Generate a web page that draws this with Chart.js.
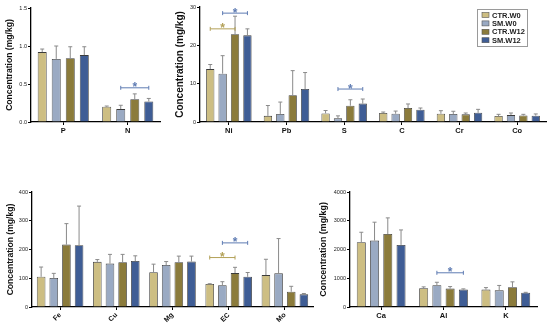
<!DOCTYPE html>
<html>
<head>
<meta charset="utf-8">
<script src="https://cdn.jsdelivr.net/npm/chart.js@4.4.0/dist/chart.umd.min.js"></script>
<style>
  html, body { margin: 0; padding: 0; background: #fff; }
  #wrap { position: relative; width: 550px; height: 325px; overflow: hidden; }
  canvas { position: absolute; }
</style>
</head>
<body>
<div id="wrap">
  <canvas id="cA" width="165" height="150" style="left:0px;top:0px"></canvas>
  <canvas id="cB" width="380" height="150" style="left:170px;top:0px"></canvas>
  <canvas id="cC" width="320" height="165" style="left:0px;top:160px"></canvas>
  <canvas id="cD" width="235" height="165" style="left:315px;top:160px"></canvas>
</div>
<script>
// ---- data ----
const seriesNames = ["CTR.W0", "SM.W0", "CTR.W12", "SM.W12"];
const seriesColors = ["#CDBE83", "#9AAAC3", "#8B7B3B", "#3F5D95"];
const GOLD = "#B3A158";
const BLUE = "#5F7CB3";

// panel A : P, N
const catsA = ["P", "N"];
const meanA = [[0.92, 0.20], [0.83, 0.17], [0.84, 0.30], [0.88, 0.27]];
const highA = [[0.96, 0.21], [1.00, 0.22], [0.99, 0.37], [0.99, 0.31]];
const ticksA = [0, 0.5, 1.0, 1.5];
const sigA = [{ cat: 1, from: 1, to: 3, y: 0.45, color: BLUE }];

// panel B : trace elements
const catsB = ["Ni", "Pb", "S", "C", "Cr", "Co"];
const meanB = [
  [13.8, 1.6, 2.25, 2.35, 2.15, 1.55],
  [12.6, 2.1, 0.95, 2.15, 2.1, 1.8],
  [22.9, 7.0, 4.25, 3.65, 2.0, 1.7],
  [22.6, 8.6, 4.8, 3.2, 2.4, 1.65]
];
const highB = [
  [15.0, 4.3, 3.0, 2.6, 2.95, 2.0],
  [17.3, 5.2, 1.6, 2.85, 2.8, 2.35],
  [27.6, 13.4, 5.8, 4.7, 2.35, 2.0],
  [24.3, 12.9, 6.0, 3.65, 3.3, 2.1]
];
const ticksB = [0, 10, 20, 30];
const sigB = [
  { cat: 0, from: 0, to: 2, y: 24.3, color: GOLD },
  { cat: 0, from: 1, to: 3, y: 28.4, color: BLUE },
  { cat: 2, from: 1, to: 3, y: 8.6, color: BLUE }
];

// panel C : Fe .. Mo
const catsC = ["Fe", "Cu", "Mg", "EC", "Mo"];
const meanC = [
  [105, 157, 121, 80, 111],
  [101, 151, 146, 76, 117],
  [217, 156, 156, 118, 53],
  [215, 160, 158, 105, 44]
];
const highC = [
  [139, 165, 149, 81, 166],
  [117, 183, 158, 88, 238],
  [290, 183, 177, 138, 72],
  [351, 178, 177, 120, 47]
];
const ticksC = [0, 100, 200, 300, 400];
const sigC = [
  { cat: 3, from: 0, to: 2, y: 172, color: GOLD },
  { cat: 3, from: 1, to: 3, y: 223, color: BLUE }
];

// panel D : Ca, Al, K
const catsD = ["Ca", "Al", "K"];
const meanD = [[2250, 650, 605], [2310, 760, 580], [2540, 640, 690], [2160, 605, 500]];
const highD = [[2600, 700, 675], [2950, 860, 750], [3100, 710, 875], [2680, 630, 510]];
const ticksD = [0, 1000, 2000, 3000, 4000];
const sigD = [{ cat: 1, from: 1, to: 3, y: 1190, color: BLUE }];

const FONT = "'Liberation Sans', Arial, sans-serif";

// error bars (upper only), significance brackets, optional boxed legend
const extras = {
  id: "extras",
  afterDatasetsDraw(chart, args, opts) {
    const ctx = chart.ctx;
    const y = chart.scales.y;
    ctx.save();
    ctx.strokeStyle = "#8a8a8a";
    ctx.lineWidth = 1;
    chart.data.datasets.forEach((ds, i) => {
      chart.getDatasetMeta(i).data.forEach((bar, j) => {
        const yt = y.getPixelForValue(ds.high[j]);
        const cap = 2;
        ctx.beginPath();
        ctx.moveTo(bar.x, bar.y);
        ctx.lineTo(bar.x, yt);
        ctx.moveTo(bar.x - cap, yt);
        ctx.lineTo(bar.x + cap, yt);
        ctx.stroke();
      });
    });
    (opts.sig || []).forEach(s => {
      const x1 = chart.getDatasetMeta(s.from).data[s.cat].x;
      const x2 = chart.getDatasetMeta(s.to).data[s.cat].x;
      const yp = y.getPixelForValue(s.y);
      ctx.strokeStyle = s.color;
      ctx.lineWidth = 1;
      ctx.beginPath();
      ctx.moveTo(x1, yp); ctx.lineTo(x2, yp);
      ctx.moveTo(x1, yp - 2); ctx.lineTo(x1, yp + 2);
      ctx.moveTo(x2, yp - 2); ctx.lineTo(x2, yp + 2);
      ctx.stroke();
      ctx.fillStyle = s.color;
      ctx.font = "bold 12px " + FONT;
      ctx.textAlign = "center";
      ctx.textBaseline = "alphabetic";
      ctx.fillText("*", (x1 + x2) / 2, yp + 3.5);
    });
    if (opts.legend) {
      const L = opts.legend;
      ctx.strokeStyle = "#9a9a9a";
      ctx.lineWidth = 1;
      ctx.strokeRect(L.x + 0.5, L.y + 0.5, L.w, L.h);
      ctx.font = "bold 7.5px " + FONT;
      ctx.textAlign = "left";
      ctx.textBaseline = "middle";
      chart.data.datasets.forEach((ds, i) => {
        const ry = L.y + 6 + i * 8.4;
        ctx.fillStyle = ds.backgroundColor;
        ctx.fillRect(L.x + 5, ry - 2.5, 7, 5);
        ctx.strokeStyle = "#555";
        ctx.lineWidth = 0.6;
        ctx.strokeRect(L.x + 5, ry - 2.5, 7, 5);
        ctx.fillStyle = "#222";
        ctx.fillText(ds.label, L.x + 15, ry + 0.5);
      });
    }
    ctx.restore();
  }
};

function makePanel(id, cats, means, highs, ticks, fmt, sig, c) {
  const datasets = means.map((m, i) => ({
    label: seriesNames[i],
    data: m,
    high: highs[i],
    backgroundColor: seriesColors[i],
    borderColor: "#3a3a3a",
    borderWidth: 0.8,
    categoryPercentage: c.catPct,
    barPercentage: c.barPct
  }));
  return new Chart(document.getElementById(id), {
    type: "bar",
    data: { labels: cats, datasets: datasets },
    plugins: [extras],
    options: {
      responsive: false,
      animation: false,
      events: [],
      layout: { padding: { top: c.padTop, right: c.padRight, left: 0, bottom: 0 } },
      plugins: {
        legend: { display: false },
        tooltip: { enabled: false },
        extras: { sig: sig, legend: c.legend }
      },
      scales: {
        x: {
          grid: { offset: false, drawOnChartArea: false, tickLength: 3, color: "#000", lineWidth: 1 },
          border: { display: true, color: "#000", width: 1.3 },
          ticks: {
            color: "#111", padding: 1, autoSkip: false,
            minRotation: c.rot, maxRotation: c.rot,
            font: { family: FONT, size: c.xFont, weight: "bold" }
          },
          afterFit: s => { s.height = c.xH; }
        },
        y: {
          min: ticks[0],
          max: ticks[ticks.length - 1],
          grid: { drawOnChartArea: false, tickLength: 3, color: "#000", lineWidth: 1 },
          border: { display: true, color: "#000", width: 1.3 },
          ticks: {
            color: "#222", padding: 1,
            font: { family: FONT, size: 5.5 },
            callback: v => fmt(v)
          },
          afterBuildTicks: s => { s.ticks = ticks.map(v => ({ value: v })); },
          title: {
            display: true,
            text: "Concentration (mg/kg)",
            color: "#111",
            font: { family: FONT, size: c.tFont, weight: "bold" },
            padding: { top: c.tPad, bottom: 0 }
          },
          afterFit: s => { s.width = c.yW; }
        }
      }
    }
  });
}

makePanel("cA", catsA, meanA, highA, ticksA, v => v.toFixed(1), sigA,
  { catPct: 0.87, barPct: 0.64, padTop: 8, padRight: 5, xH: 28, yW: 31, rot: 0, xFont: 7.5, tFont: 8.6, tPad: 4.5 });

makePanel("cB", catsB, meanB, highB, ticksB, v => String(v), sigB,
  { catPct: 0.86, barPct: 0.67, padTop: 7, padRight: 4, xH: 28, yW: 30, rot: 0, xFont: 7.5, tFont: 10, tPad: 4,
    legend: { x: 307, y: 9, w: 50, h: 37 } });

makePanel("cC", catsC, meanC, highC, ticksC, v => String(v), sigC,
  { catPct: 0.9, barPct: 0.68, padTop: 32, padRight: 7, xH: 18, yW: 32, rot: 45, xFont: 7, tFont: 8.6, tPad: 5 });

makePanel("cD", catsD, meanD, highD, ticksD, v => String(v), sigD,
  { catPct: 0.85, barPct: 0.68, padTop: 32, padRight: 13, xH: 18, yW: 35, rot: 0, xFont: 7.5, tFont: 8.9, tPad: 3 });
</script>
</body>
</html>
